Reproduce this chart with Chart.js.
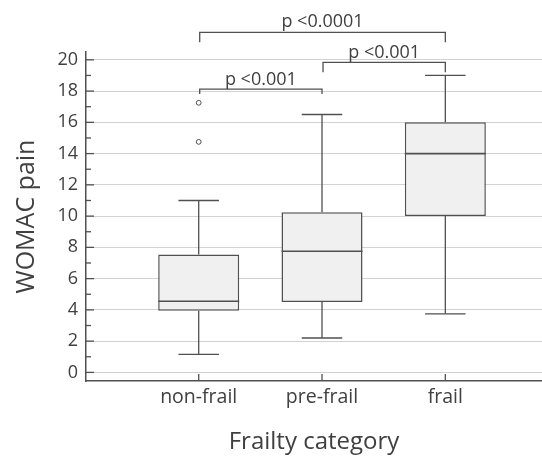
<!DOCTYPE html>
<html>
<head>
<meta charset="utf-8">
<script src="https://cdn.jsdelivr.net/npm/chart.js@4.4.0/dist/chart.umd.min.js"></script>
<style>
    html, body { margin: 0; padding: 0; background: #fff; }
</style>
</head>
<body>
<canvas id="boxChart" width="542" height="459"></canvas>
<script>
// Data
const categories = ["non-frail", "pre-frail", "frail"];
const lowerWhisker = [1.15, 2.2, 3.75];
const lowerQuartile = [3.95, 4.5, 10];
const medianValue = [4.55, 7.75, 14];
const upperQuartile = [7.55, 10.25, 16];
const upperWhisker = [11, 16.5, 19];
const outlierValues = [[17.25, 14.75], [], []];
const yTickValues = [0, 2, 4, 6, 8, 10, 12, 14, 16, 18, 20];
const comparisons = [
    { from: 0, to: 1, label: "p <0.001" },
    { from: 1, to: 2, label: "p <0.001" },
    { from: 0, to: 2, label: "p <0.0001" },
];
const bracketLevels = [18.13, 19.84, 21.76];

const ink = "#505050";
const textInk = "#404040";
Chart.defaults.font.family = '"Open Sans", sans-serif';

const line = (ctx, x1, y1, x2, y2) => {
    ctx.beginPath();
    ctx.moveTo(x1, y1);
    ctx.lineTo(x2, y2);
    ctx.stroke();
};

// whiskers, medians, outliers, inward ticks and p-value brackets
const boxExtras = {
    id: "boxExtras",
    afterDatasetsDraw(chart) {
        const { ctx, scales: { x, y } } = chart;
        const bars = chart.getDatasetMeta(0).data;
        ctx.save();
        ctx.strokeStyle = ink;
        ctx.lineWidth = 1.3;
        categories.forEach((c, i) => {
            const cx = x.getPixelForValue(i + 1);
            const capHalf = bars[i].width / 4;
            line(ctx, cx, y.getPixelForValue(upperQuartile[i]), cx, y.getPixelForValue(upperWhisker[i]));
            line(ctx, cx, y.getPixelForValue(lowerQuartile[i]), cx, y.getPixelForValue(lowerWhisker[i]));
            line(ctx, cx - capHalf, y.getPixelForValue(upperWhisker[i]), cx + capHalf, y.getPixelForValue(upperWhisker[i]));
            line(ctx, cx - capHalf, y.getPixelForValue(lowerWhisker[i]), cx + capHalf, y.getPixelForValue(lowerWhisker[i]));
            ctx.lineWidth = 1.6;
            const half = bars[i].width / 2;
            line(ctx, cx - half, y.getPixelForValue(medianValue[i]), cx + half, y.getPixelForValue(medianValue[i]));
            ctx.lineWidth = 1.3;
            // category tick pointing up
            line(ctx, cx, y.bottom, cx, y.bottom - 7);
            // outliers
            ctx.lineWidth = 1;
            ctx.fillStyle = "#ffffff";
            outlierValues[i].forEach((v) => {
                ctx.beginPath();
                ctx.arc(cx, y.getPixelForValue(v), 2.4, 0, Math.PI * 2);
                ctx.fill();
                ctx.stroke();
            });
            ctx.lineWidth = 1.3;
        });
        // y ticks pointing inward, minor ones shorter
        for (let v = 0; v <= 20; v++) {
            const py = y.getPixelForValue(v);
            line(ctx, x.left, py, x.left + (v % 2 ? 5 : 8), py);
        }
        // brackets
        ctx.font = '18px "Open Sans"';
        ctx.fillStyle = textInk;
        ctx.textAlign = "center";
        ctx.textBaseline = "alphabetic";
        comparisons.forEach((cmp, k) => {
            const xa = x.getPixelForValue(cmp.from + 1) + 1;
            const xb = x.getPixelForValue(cmp.to + 1);
            const by = y.getPixelForValue(bracketLevels[k]);
            const leg = k === 0 ? 5 : 10;
            ctx.beginPath();
            ctx.moveTo(xa, by + leg);
            ctx.lineTo(xa, by);
            ctx.lineTo(xb, by);
            ctx.lineTo(xb, by + leg);
            ctx.stroke();
            ctx.fillText(cmp.label, (xa + xb) / 2, by - (k === 2 ? 5 : 4));
        });
        ctx.restore();
    },
};

const ctx = document.getElementById("boxChart");

new Chart(ctx, {
    type: "bar",
    data: {
        datasets: [
            {
                label: "IQR",
                data: categories.map((c, i) => ({ x: i + 1, y: [lowerQuartile[i], upperQuartile[i]] })),
                backgroundColor: "#f0f0f0",
                borderColor: ink,
                borderWidth: 1.5,
                borderSkipped: false,
                barPercentage: 0.657,
                categoryPercentage: 1,
            },
        ],
    },
    options: {
        responsive: false,
        animation: false,
        layout: { padding: { top: 52, right: 0, bottom: 0, left: 0 } },
        plugins: {
            legend: { display: false },
        },
        scales: {
            x: {
                type: "linear",
                min: 0.086,
                max: 3.784,
                offset: false,
                afterBuildTicks: (scale) => {
                    scale.ticks = categories.map((c, i) => ({ value: i + 1 }));
                },
                afterFit: (scale) => {
                    scale.height = 78;
                    scale.paddingLeft = 0;
                    scale.paddingRight = 0;
                },
                ticks: {
                    callback: (v) => categories[v - 1],
                    font: { size: 19.5 },
                    color: textInk,
                    padding: 5,
                    maxRotation: 0,
                },
                grid: { display: false, drawTicks: false },
                border: { color: ink, width: 1.5 },
                title: {
                    display: true,
                    text: "Frailty category",
                    color: textInk,
                    font: { size: 24 },
                    padding: { top: 0, bottom: 2 },
                },
            },
            y: {
                min: -0.55,
                max: 20.5,
                afterBuildTicks: (scale) => {
                    scale.ticks = yTickValues.map((v) => ({ value: v }));
                },
                afterFit: (scale) => {
                    scale.width = 86;
                    scale.paddingTop = 0;
                    scale.paddingBottom = 0;
                },
                ticks: {
                    font: { size: 18 },
                    color: textInk,
                    padding: 8,
                },
                grid: { color: "#d2d2d2", drawTicks: false },
                border: { color: ink, width: 1.5 },
                title: {
                    display: true,
                    text: "WOMAC pain",
                    color: textInk,
                    font: { size: 25 },
                    padding: { top: 12, bottom: 0 },
                },
            },
        },
    },
    plugins: [boxExtras],
});
</script>
</body>
</html>
